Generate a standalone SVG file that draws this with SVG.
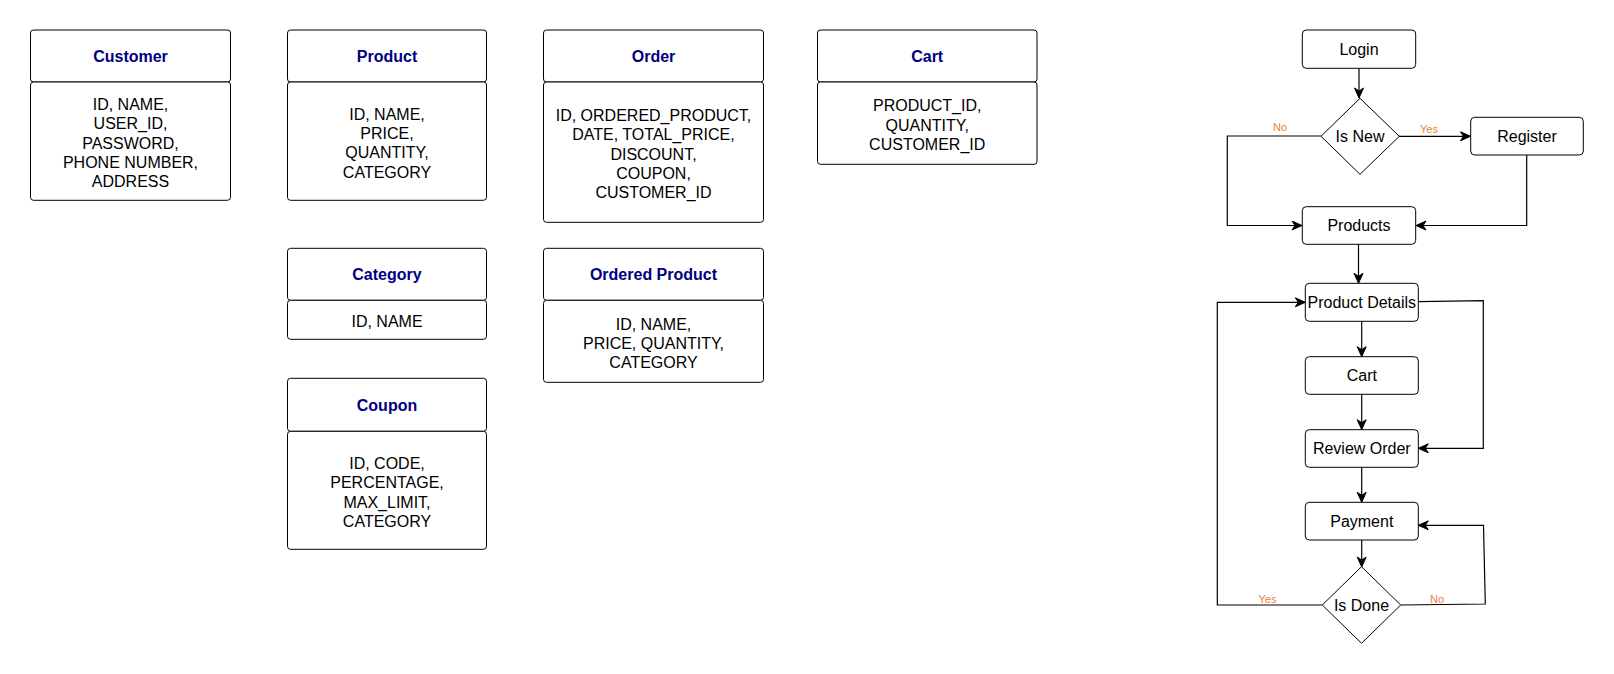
<svg xmlns="http://www.w3.org/2000/svg" width="1614" height="674" viewBox="0 0 1614 674">
<style>
  .box{fill:#fff;stroke:#000;stroke-width:1}
  .hdr{font-family:"Liberation Sans",Arial,sans-serif;font-size:16px;font-weight:bold;fill:#000080;text-anchor:middle}
  .txt{font-family:"Liberation Sans",Arial,sans-serif;font-size:16px;fill:#000;text-anchor:middle}
  .lbl{font-family:"Liberation Sans",Arial,sans-serif;font-size:11px;fill:#E8823A;text-anchor:middle}
  .edge{fill:none;stroke:#000;stroke-width:1.2}
</style>
<defs>
  <marker id="arr" markerUnits="userSpaceOnUse" markerWidth="14" markerHeight="12" refX="11" refY="5" orient="auto">
    <path d="M1,0.5 L11,5 L1,9.5 L4,5 z" fill="#000" stroke="#000" stroke-width="1"/>
  </marker>
</defs>
<rect width="1614" height="674" fill="#fff"/>

<g id="customer">
  <rect class="box" x="30.5" y="30" width="200" height="52" rx="3"/>
  <rect class="box" x="30.5" y="82" width="200" height="118.3" rx="3"/>
  <text class="hdr" x="130.5" y="62">Customer</text>
  <text class="txt" x="130.5" y="109.8">ID, NAME,</text>
  <text class="txt" x="130.5" y="129.1">USER_ID,</text>
  <text class="txt" x="130.5" y="148.5">PASSWORD,</text>
  <text class="txt" x="130.5" y="167.9">PHONE NUMBER,</text>
  <text class="txt" x="130.5" y="187.2">ADDRESS</text>
</g>

<g id="product">
  <rect class="box" x="287.5" y="30" width="199" height="52" rx="3"/>
  <rect class="box" x="287.5" y="82" width="199" height="118.3" rx="3"/>
  <text class="hdr" x="387" y="62">Product</text>
  <text class="txt" x="387" y="119.6">ID, NAME,</text>
  <text class="txt" x="387" y="139">PRICE,</text>
  <text class="txt" x="387" y="158.3">QUANTITY,</text>
  <text class="txt" x="387" y="177.7">CATEGORY</text>
</g>

<g id="order">
  <rect class="box" x="543.5" y="30" width="220" height="52" rx="3"/>
  <rect class="box" x="543.5" y="82" width="220" height="140.3" rx="3"/>
  <text class="hdr" x="653.5" y="62">Order</text>
  <text class="txt" x="653.5" y="121">ID, ORDERED_PRODUCT,</text>
  <text class="txt" x="653.5" y="140.3">DATE, TOTAL_PRICE,</text>
  <text class="txt" x="653.5" y="159.7">DISCOUNT,</text>
  <text class="txt" x="653.5" y="179">COUPON,</text>
  <text class="txt" x="653.5" y="198.4">CUSTOMER_ID</text>
</g>

<g id="cart-table">
  <rect class="box" x="817.5" y="30" width="219.5" height="52" rx="3"/>
  <rect class="box" x="817.5" y="82" width="219.5" height="82.3" rx="3"/>
  <text class="hdr" x="927.2" y="62">Cart</text>
  <text class="txt" x="927.2" y="111.3">PRODUCT_ID,</text>
  <text class="txt" x="927.2" y="130.7">QUANTITY,</text>
  <text class="txt" x="927.2" y="150">CUSTOMER_ID</text>
</g>

<g id="category">
  <rect class="box" x="287.5" y="248.3" width="199" height="52" rx="3"/>
  <rect class="box" x="287.5" y="300.3" width="199" height="39" rx="3"/>
  <text class="hdr" x="387" y="280.3">Category</text>
  <text class="txt" x="387" y="327.3">ID, NAME</text>
</g>

<g id="ordered-product">
  <rect class="box" x="543.5" y="248.3" width="220" height="52" rx="3"/>
  <rect class="box" x="543.5" y="300.3" width="220" height="82" rx="3"/>
  <text class="hdr" x="653.5" y="280.3">Ordered Product</text>
  <text class="txt" x="653.5" y="329.5">ID, NAME,</text>
  <text class="txt" x="653.5" y="348.8">PRICE, QUANTITY,</text>
  <text class="txt" x="653.5" y="368.2">CATEGORY</text>
</g>

<g id="coupon">
  <rect class="box" x="287.5" y="378.3" width="199" height="53" rx="3"/>
  <rect class="box" x="287.5" y="431.3" width="199" height="118" rx="3"/>
  <text class="hdr" x="387" y="410.8">Coupon</text>
  <text class="txt" x="387" y="468.8">ID, CODE,</text>
  <text class="txt" x="387" y="488.1">PERCENTAGE,</text>
  <text class="txt" x="387" y="507.5">MAX_LIMIT,</text>
  <text class="txt" x="387" y="526.8">CATEGORY</text>
</g>

<g id="connectors">
  <path class="edge" d="M1359,68.5 V98" marker-end="url(#arr)"/>
  <path class="edge" d="M1399,136.3 H1470.5" marker-end="url(#arr)"/>
  <path class="edge" d="M1321,136 H1227.3 V225.5 H1302" marker-end="url(#arr)"/>
  <path class="edge" d="M1526.7,155 V225.5 H1416" marker-end="url(#arr)"/>
  <path class="edge" d="M1358.5,244.3 V283.3" marker-end="url(#arr)"/>
  <path class="edge" d="M1361.7,321.3 V356.7" marker-end="url(#arr)"/>
  <path class="edge" d="M1361.7,394.3 V429.7" marker-end="url(#arr)"/>
  <path class="edge" d="M1361.7,467.3 V502.3" marker-end="url(#arr)"/>
  <path class="edge" d="M1361.7,540 V567" marker-end="url(#arr)"/>
  <path class="edge" d="M1418.3,301.7 L1483.3,300.7 V448.3 H1418.3" marker-end="url(#arr)"/>
  <path class="edge" d="M1400.7,605 L1485.3,604 L1483.5,525.3 H1418.3" marker-end="url(#arr)"/>
  <path class="edge" d="M1322.3,605 H1217.3 V302.3 H1305.3" marker-end="url(#arr)"/>
  <text class="lbl" x="1280" y="131">No</text>
  <text class="lbl" x="1429" y="132.5">Yes</text>
  <text class="lbl" x="1267.5" y="603">Yes</text>
  <text class="lbl" x="1437" y="603">No</text>
</g>

<g id="login">
  <rect class="box" x="1302.3" y="30" width="113.4" height="38.3" rx="4"/>
  <text class="txt" x="1359" y="55">Login</text>
</g>
<g id="is-new">
  <polygon class="box" points="1360,98.3 1399.3,136.3 1360,174.3 1321,136.3"/>
  <text class="txt" x="1360" y="142">Is New</text>
</g>
<g id="register">
  <rect class="box" x="1470.7" y="117.3" width="112.6" height="37.7" rx="4"/>
  <text class="txt" x="1527" y="141.8">Register</text>
</g>
<g id="products">
  <rect class="box" x="1302.3" y="206.7" width="113.4" height="37.6" rx="4"/>
  <text class="txt" x="1359" y="231.3">Products</text>
</g>
<g id="product-details">
  <rect class="box" x="1305.3" y="283.3" width="113" height="38" rx="4"/>
  <text class="txt" x="1361.8" y="308">Product Details</text>
</g>
<g id="cart">
  <rect class="box" x="1305.3" y="356.7" width="113" height="37.6" rx="4"/>
  <text class="txt" x="1361.8" y="381.3">Cart</text>
</g>
<g id="review-order">
  <rect class="box" x="1305.3" y="429.7" width="113" height="37.6" rx="4"/>
  <text class="txt" x="1361.8" y="454.3">Review Order</text>
</g>
<g id="payment">
  <rect class="box" x="1305.3" y="502.3" width="113" height="37.7" rx="4"/>
  <text class="txt" x="1361.8" y="527">Payment</text>
</g>
<g id="is-done">
  <polygon class="box" points="1361.5,566.7 1400.7,605 1361.5,643.3 1322.3,605"/>
  <text class="txt" x="1361.5" y="611">Is Done</text>
</g>
</svg>
